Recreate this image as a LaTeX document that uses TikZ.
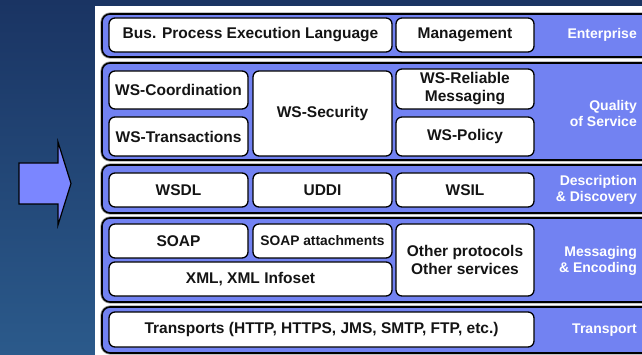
\documentclass[tikz,border=0pt]{standalone}
\usepackage{fontspec}
\setmainfont{Liberation Sans}
\usetikzlibrary{positioning}
\definecolor{wsBgTop}{HTML}{1A3463}
\definecolor{wsBgBot}{HTML}{2B5A8B}
\definecolor{wsLayer}{HTML}{7282F2}
\definecolor{wsArrow}{HTML}{7B86FF}
\definecolor{wsText}{HTML}{141414}
\tikzset{
  wslayer/.style={rectangle, rounded corners=8pt, draw=black, line width=1.6pt,
                  fill=wsLayer, preaction={draw=black!35, line width=3.2pt},
                  minimum width=548pt, inner sep=0pt},
  wsbox/.style={rectangle, rounded corners=6pt, draw=black, line width=1.3pt,
                fill=white, text=wsText, font=\fontsize{15.5}{18}\selectfont\bfseries,
                align=center, inner sep=0pt, minimum width=139pt, minimum height=34pt},
  wslabel/.style={anchor=east, text=white, font=\fontsize{14}{16}\selectfont\bfseries,
                  align=right, inner sep=0pt},
  wsarrow/.style={fill=wsArrow, draw=black, line width=1.2pt, line join=miter},
}

\begin{document}
\begin{tikzpicture}[x=1pt, y=-1pt]
  \useasboundingbox (0,0) rectangle (642,355);
  \shade[top color=wsBgTop, bottom color=wsBgBot] (0,0) rectangle (642,355);
  \fill[white] (95,6) rectangle (642,355);
  % block arrow
  \filldraw[wsarrow] (19,163) -- (58,163) -- (58,142) -- (71,183.5) -- (58,225)
    -- (58,204) -- (19,204) -- cycle;
  % layers
  \begin{scope}
    \clip (95,6) rectangle (642,355);
    \node[wslayer, minimum height=43pt](enterprise) at (376,35.5){};
    \node[wslayer, minimum height=97pt](qos) at (376,111.5){};
    \node[wslayer, minimum height=48pt](discovery) at (376,189){};
    \node[wslayer, minimum height=84pt](messaging) at (376,260){};
    \node[wslayer, minimum height=46pt](transport) at (376,330){};
  \end{scope}
  % enterprise
  \node[wsbox, minimum width=283pt](bpel) at (250.5,35){Bus. Process Execution Language};
  \node[wsbox, minimum width=138pt](mgmt) at (465,35){Management};
  % quality of service
  \node[wsbox, minimum height=38pt](coord) at (178.5,90){WS-Coordination};
  \node[wsbox, minimum height=39pt](trans) at (178.5,136.5){WS-Transactions};
  \node[wsbox, minimum height=85pt](security) at (322.5,113.5){WS-Security};
  \node[wsbox, minimum width=138pt, minimum height=40pt](reliable) at (465,89){WS-Reliable\\Messaging};
  \node[wsbox, minimum width=138pt, minimum height=39pt](policy) at (465,136.5){WS-Policy};
  % description & discovery
  \node[wsbox](wsdl) at (178.5,190){WSDL};
  \node[wsbox](uddi) at (322.5,190){UDDI};
  \node[wsbox, minimum width=138pt](wsil) at (465,190){WSIL};
  % messaging & encoding
  \node[wsbox](soap) at (178.5,241){SOAP};
  \node[wsbox, font=\fontsize{13.8}{16}\selectfont\bfseries](attach) at (322.5,241){SOAP attachments};
  \node[wsbox, minimum width=283pt](xml) at (250.5,279){XML, XML Infoset};
  \node[wsbox, minimum width=138pt, minimum height=72pt](other) at (465,260){Other protocols\\Other services};
  % transport
  \node[wsbox, minimum width=425pt, minimum height=35pt](transports) at (321.5,329.5){Transports (HTTP, HTTPS, JMS, SMTP, FTP, etc.)};
  % layer names
  \node[wslabel](lblent) at (637,35){Enterprise};
  \node[wslabel](lblqos) at (637,113){Quality\\of Service};
  \node[wslabel](lbldisc) at (637,190){Description\\\& Discovery};
  \node[wslabel](lblmsg) at (637,261){Messaging\\\& Encoding};
  \node[wslabel](lbltrans) at (637,330){Transport};
\end{tikzpicture}
\end{document}
